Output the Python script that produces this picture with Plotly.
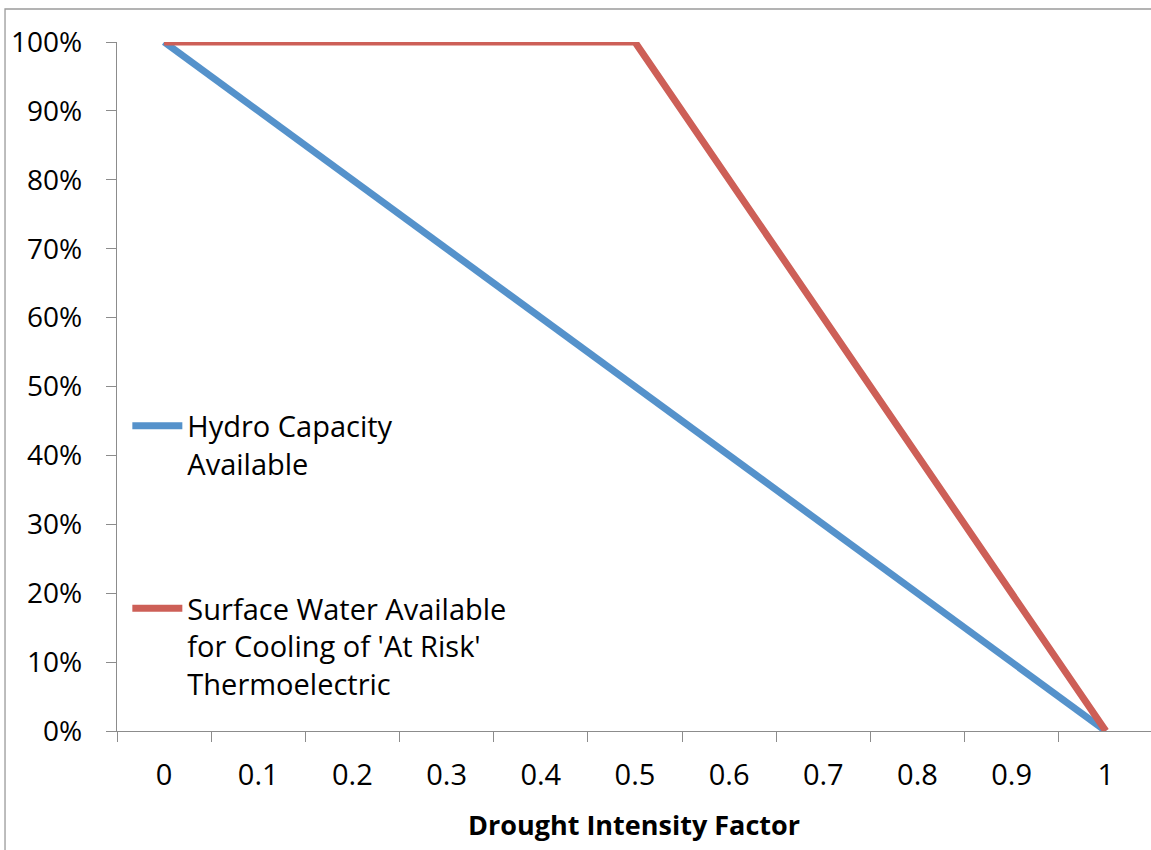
import plotly.graph_objects as go

categories = ["0", "0.1", "0.2", "0.3", "0.4", "0.5", "0.6", "0.7", "0.8", "0.9", "1"]
hydro = [1.0, 0.9, 0.8, 0.7, 0.6, 0.5, 0.4, 0.3, 0.2, 0.1, 0.0]
surface_x = ["0", "0.5", "1"]
surface = [1.0, 1.0, 0.0]
y_ticks = [0, 0.1, 0.2, 0.3, 0.4, 0.5, 0.6, 0.7, 0.8, 0.9, 1.0]
y_labels = ["0%", "10%", "20%", "30%", "40%", "50%", "60%", "70%", "80%", "90%", "100%"]

FONT = "Open Sans"
AXIS = "#8c8c8c"

fig = go.Figure()
fig.add_trace(go.Scatter(
    x=categories, y=hydro, mode="lines", name="Hydro Capacity<br>Available",
    line=dict(color="#5592CB", width=7), legend="legend"))
fig.add_trace(go.Scatter(
    x=surface_x, y=surface, mode="lines",
    name="Surface Water Available<br>for Cooling of 'At Risk'<br>Thermoelectric",
    line=dict(color="#CD5F57", width=7), legend="legend2"))

fig.update_layout(
    width=1151, height=850,
    margin=dict(l=117, r=0, t=42, b=119),
    paper_bgcolor="white", plot_bgcolor="white",
    font=dict(family=FONT, color="black"),
    xaxis=dict(
        type="category", categoryorder="array", categoryarray=categories,
        range=[-0.5, 10.48], tickson="boundaries", ticks="outside", ticklen=10,
        tickcolor=AXIS, tickwidth=1.3, showline=True, linecolor=AXIS, linewidth=1.3,
        showgrid=False, zeroline=False, tickfont=dict(size=29), ticklabelstandoff=18,
        title=dict(text="<b>Drought Intensity Factor</b>", font=dict(size=27), standoff=24),
    ),
    yaxis=dict(
        range=[0, 1], tickvals=y_ticks, ticktext=y_labels, ticks="outside", ticklen=10,
        tickcolor=AXIS, tickwidth=1.3, showline=True, linecolor=AXIS, linewidth=1.3,
        showgrid=False, zeroline=False, tickfont=dict(size=28), ticklabelstandoff=18,
    ),
    legend=dict(x=0.01, y=0.48, xanchor="left", yanchor="top", valign="top",
                bgcolor="rgba(0,0,0,0)", font=dict(size=29, family=FONT),
                itemwidth=50),
    legend2=dict(x=0.01, y=0.215, xanchor="left", yanchor="top", valign="top",
                 bgcolor="rgba(0,0,0,0)", font=dict(size=29, family=FONT),
                 itemwidth=50),
    showlegend=True,
    shapes=[dict(type="rect", xref="paper", yref="paper",
                 x0=-0.1083, x1=1.05, y0=-0.3, y1=1.0479,
                 line=dict(color="#9a9a9a", width=1.3), fillcolor="rgba(0,0,0,0)",
                 layer="below")],
)

fig.write_html("out.html")
